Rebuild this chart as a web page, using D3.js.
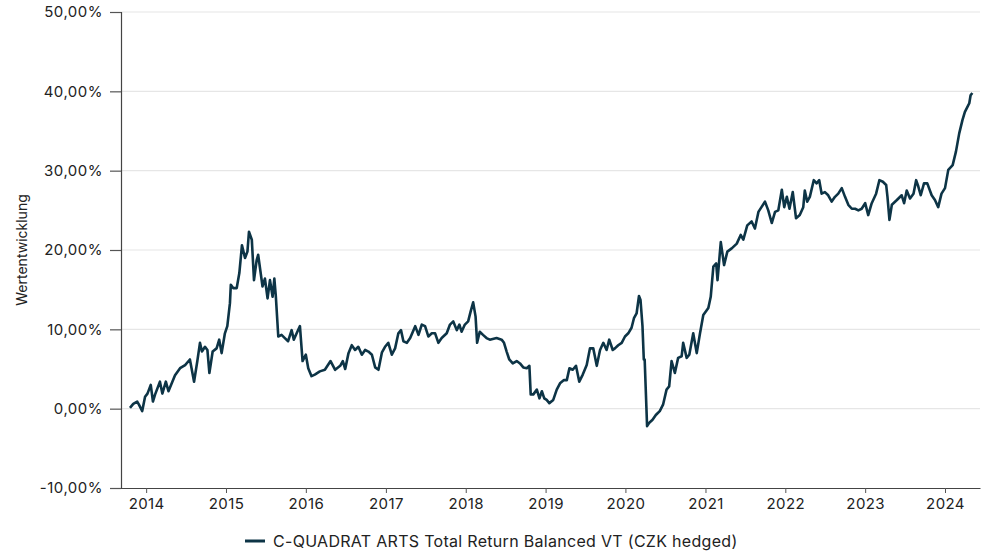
<!DOCTYPE html>
<html lang="de">
<head>
<meta charset="UTF-8">
<title>Wertentwicklung</title>
<style>
  body { margin: 0; background: #fff; }
  svg text { font-family: Inter, "Noto Sans", sans-serif; fill: #222; }
</style>
</head>
<body>
<div id="chart"></div>
<script src="https://d3js.org/d3.v7.min.js"></script>
<script>
// data
var seriesName = "C-QUADRAT ARTS Total Return Balanced VT (CZK hedged)";
var yTicks = [-10, 0, 10, 20, 30, 40, 50];
var xTickYears = [2014, 2015, 2016, 2017, 2018, 2019, 2020, 2021, 2022, 2023, 2024];

var dates = [
  "2013-10-19","2013-11-03","2013-11-21","2013-11-29","2013-12-14","2013-12-27","2014-01-07","2014-01-22",
  "2014-02-01","2014-02-11","2014-03-05","2014-03-16","2014-04-01","2014-04-13","2014-04-28","2014-05-13",
  "2014-06-05","2014-06-28","2014-07-20","2014-08-08","2014-08-23","2014-09-04","2014-09-13","2014-09-27",
  "2014-10-08","2014-10-17","2014-11-01","2014-11-19","2014-12-01","2014-12-12","2014-12-27","2015-01-07",
  "2015-01-19","2015-01-23","2015-02-03","2015-02-19","2015-03-03","2015-03-15","2015-03-29","2015-04-09",
  "2015-04-16","2015-04-29","2015-05-09","2015-05-21","2015-05-28","2015-06-17","2015-06-28","2015-07-10",
  "2015-07-21","2015-08-02","2015-08-10","2015-08-17","2015-08-28","2015-09-12","2015-09-27","2015-10-12",
  "2015-10-28","2015-11-07","2015-11-20","2015-12-05","2015-12-17","2016-01-01","2016-01-12","2016-01-27",
  "2016-02-11","2016-03-05","2016-03-28","2016-04-23","2016-05-14","2016-06-06","2016-06-18","2016-06-29",
  "2016-07-14","2016-07-29","2016-08-13","2016-08-28","2016-09-13","2016-09-28","2016-10-13","2016-10-29",
  "2016-11-13","2016-11-28","2016-12-14","2016-12-28","2017-01-12","2017-01-28","2017-02-12","2017-02-27",
  "2017-03-11","2017-03-22","2017-04-07","2017-04-22","2017-05-15","2017-05-30","2017-06-14","2017-06-29",
  "2017-07-14","2017-07-30","2017-08-14","2017-08-29","2017-09-13","2017-10-06","2017-10-21","2017-11-05",
  "2017-11-21","2017-12-03","2017-12-13","2017-12-28","2018-01-12","2018-01-23","2018-02-04","2018-02-15",
  "2018-02-22","2018-03-06","2018-03-21","2018-04-06","2018-04-21","2018-05-22","2018-06-14","2018-06-25",
  "2018-07-07","2018-07-19","2018-08-04","2018-08-22","2018-09-06","2018-09-21","2018-10-07","2018-10-19",
  "2018-10-25","2018-11-06","2018-11-22","2018-12-04","2018-12-15","2018-12-26","2019-01-06","2019-01-18",
  "2019-02-05","2019-02-21","2019-03-08","2019-03-26","2019-04-08","2019-04-20","2019-05-05","2019-05-20",
  "2019-06-04","2019-06-20","2019-07-08","2019-07-23","2019-08-07","2019-08-23","2019-09-07","2019-09-22",
  "2019-10-07","2019-10-19","2019-11-04","2019-11-14","2019-11-29","2019-12-15","2019-12-30","2020-01-14",
  "2020-01-29","2020-02-09","2020-02-21","2020-03-03","2020-03-10","2020-03-19","2020-03-25","2020-03-29",
  "2020-04-09","2020-04-18","2020-05-04","2020-05-19","2020-06-06","2020-06-21","2020-07-07","2020-07-19",
  "2020-07-30","2020-08-14","2020-08-29","2020-09-14","2020-09-21","2020-10-07","2020-10-19","2020-11-06",
  "2020-11-22","2020-12-07","2020-12-22","2021-01-14","2021-01-25","2021-02-06","2021-02-19","2021-02-25",
  "2021-03-12","2021-03-27","2021-04-11","2021-05-01","2021-05-24","2021-06-11","2021-06-23","2021-07-11",
  "2021-07-31","2021-08-15","2021-08-31","2021-09-30","2021-10-15","2021-10-31","2021-11-15","2021-11-30",
  "2021-12-16","2021-12-27","2022-01-08","2022-01-20","2022-02-04","2022-02-19","2022-03-08","2022-03-24",
  "2022-03-31","2022-04-11","2022-04-23","2022-05-11","2022-05-24","2022-06-05","2022-06-16","2022-07-01",
  "2022-07-16","2022-08-01","2022-08-16","2022-08-31","2022-09-16","2022-10-01","2022-10-16","2022-11-01",
  "2022-11-16","2022-12-01","2022-12-16","2023-01-01","2023-01-15","2023-01-31","2023-02-20","2023-03-07",
  "2023-03-23","2023-04-07","2023-04-13","2023-04-22","2023-05-03","2023-05-26","2023-06-17","2023-06-28",
  "2023-07-10","2023-07-25","2023-08-10","2023-08-22","2023-09-01","2023-09-12","2023-09-27","2023-10-12",
  "2023-11-01","2023-11-16","2023-12-01","2023-12-16","2024-01-01","2024-01-16","2024-02-05","2024-02-20",
  "2024-03-06","2024-03-21","2024-04-01","2024-04-12","2024-04-21","2024-04-27","2024-05-05"
];

var values = [
  0.1, 0.6, 0.9, 0.5, -0.3, 1.5, 1.9, 3.0,
  0.9, 1.8, 3.4, 1.9, 3.4, 2.2, 3.2, 4.2,
  5.1, 5.5, 6.2, 3.4, 6.0, 8.3, 7.2, 7.8,
  7.4, 4.5, 7.2, 7.6, 8.7, 7.0, 9.5, 10.4,
  13.3, 15.6, 15.2, 15.2, 17.1, 20.6, 19.0, 19.8,
  22.3, 21.3, 16.2, 18.7, 19.4, 15.4, 16.4, 13.9,
  16.2, 14.1, 16.4, 14.1, 9.1, 9.3, 8.9, 8.5,
  9.9, 8.7, 9.5, 10.4, 6.0, 6.8, 5.1, 4.1,
  4.3, 4.7, 4.9, 6.0, 4.9, 5.4, 6.0, 5.0,
  7.0, 8.0, 7.4, 7.8, 6.8, 7.4, 7.2, 6.8,
  5.2, 4.9, 7.1, 7.8, 8.3, 6.8, 7.6, 9.5,
  9.9, 8.5, 8.3, 8.9, 10.4, 9.3, 10.6, 10.4,
  9.1, 9.5, 9.5, 8.3, 8.9, 9.5, 10.6, 11.0,
  9.9, 10.6, 9.7, 10.6, 11.0, 12.2, 13.4, 11.6,
  8.3, 9.7, 9.3, 8.9, 8.7, 8.9, 8.7, 8.3,
  7.2, 6.2, 5.7, 6.0, 5.7, 5.2, 5.1, 5.4,
  1.8, 1.8, 2.4, 1.3, 2.2, 1.3, 1.1, 0.7,
  1.1, 2.4, 3.2, 3.6, 3.6, 5.1, 4.9, 5.4,
  3.4, 4.3, 5.5, 7.6, 7.6, 5.4, 7.4, 8.3,
  7.4, 8.7, 7.4, 7.6, 8.0, 8.3, 9.1, 9.5,
  10.2, 11.4, 12.0, 14.2, 13.7, 10.4, 6.2, 6.2,
  -2.2, -1.8, -1.4, -0.8, -0.3, 0.5, 2.4, 2.8,
  6.0, 4.5, 6.4, 6.6, 8.3, 6.4, 6.8, 9.5,
  7.0, 9.5, 11.8, 12.7, 14.1, 17.9, 18.3, 16.2,
  21.0, 18.1, 19.8, 20.2, 20.8, 21.9, 21.3, 23.1,
  23.6, 22.7, 24.8, 26.1, 25.0, 23.4, 24.8, 25.0,
  27.6, 25.4, 26.7, 25.2, 27.3, 24.0, 24.4, 25.4,
  27.5, 26.1, 26.7, 28.8, 28.4, 28.8, 27.1, 27.3,
  26.9, 26.1, 26.7, 27.1, 27.8, 26.7, 25.7, 25.2,
  25.2, 25.0, 25.2, 25.9, 24.4, 25.9, 27.1, 28.8,
  28.6, 28.2, 26.7, 23.8, 25.7, 26.3, 26.9, 25.9,
  27.5, 26.5, 27.1, 28.8, 28.0, 26.9, 28.4, 28.4,
  26.9, 26.3, 25.4, 27.1, 27.8, 30.1, 30.7, 32.4,
  34.7, 36.4, 37.4, 38.0, 38.5, 39.5, 39.8
];

var W = 983, H = 553;
var margin = { top: 12, right: 3, bottom: 65, left: 121 };
var width = W - margin.left - margin.right,
    height = H - margin.top - margin.bottom;

var parse = d3.timeParse("%Y-%m-%d");
var data = dates.map(function (d, i) { return { date: parse(d), value: values[i] }; });

var svg = d3.select("#chart").append("svg")
  .attr("width", W).attr("height", H);
var g = svg.append("g")
  .attr("transform", "translate(" + margin.left + "," + margin.top + ")");

var x = d3.scaleTime()
  .domain([new Date(2013, 8, 8), new Date(2024, 5, 9)])
  .range([0, width]);
var y = d3.scaleLinear().domain([-10, 50]).range([height, 0]);

var fmt = function (v) { return d3.format(".2f")(v).replace(".", ",").replace("−", "-") + "%"; };

// grid
g.append("g").selectAll("line")
  .data(yTicks.filter(function (t) { return t > -10; }))
  .enter().append("line")
  .attr("x1", 0).attr("x2", width)
  .attr("y1", function (d) { return y(d); }).attr("y2", function (d) { return y(d); })
  .attr("stroke", "#e6e6e6").attr("stroke-width", 1.2);

// y axis
var yAxis = g.append("g")
  .call(d3.axisLeft(y).tickValues(yTicks).tickFormat(fmt).tickSize(11).tickPadding(7));
yAxis.select(".domain").attr("stroke", "#444").attr("stroke-width", 1.2);
yAxis.selectAll(".tick line").attr("stroke", "#555").attr("stroke-width", 1.2);
yAxis.selectAll("text").style("font-size", "15px").style("letter-spacing", "0.5px").attr("fill", "#222");

// x axis
var xAxis = g.append("g")
  .attr("transform", "translate(0," + height + ")")
  .call(d3.axisBottom(x)
    .tickValues(xTickYears.map(function (yr) { return new Date(yr, 0, 1); }))
    .tickFormat(d3.timeFormat("%Y")).tickSize(5).tickPadding(5).tickSizeOuter(0));
xAxis.select(".domain").attr("stroke", "#444").attr("stroke-width", 1.2);
xAxis.selectAll(".tick line").attr("stroke", "#555");
xAxis.selectAll("text").style("font-size", "15px").style("letter-spacing", "0.4px").attr("fill", "#222");

// y title
svg.append("text")
  .attr("transform", "translate(27," + (margin.top + y(20)) + ") rotate(-90)")
  .attr("text-anchor", "middle")
  .style("font-size", "14px")
  .text("Wertentwicklung");

// series line
var line = d3.line()
  .x(function (d) { return x(d.date); })
  .y(function (d) { return y(d.value); });
g.append("path")
  .datum(data)
  .attr("fill", "none")
  .attr("stroke", "#0d3446")
  .attr("stroke-width", 2.6)
  .attr("stroke-linejoin", "round")
  .attr("d", line);

// legend
var legend = svg.append("g").attr("transform", "translate(245,541)");
legend.append("line").attr("x1", 0).attr("x2", 20).attr("stroke", "#0d3446").attr("stroke-width", 3);
legend.append("text").attr("x", 28).attr("y", 6)
  .style("font-size", "16px").style("letter-spacing", "0.3px").text(seriesName);
</script>
</body>
</html>
